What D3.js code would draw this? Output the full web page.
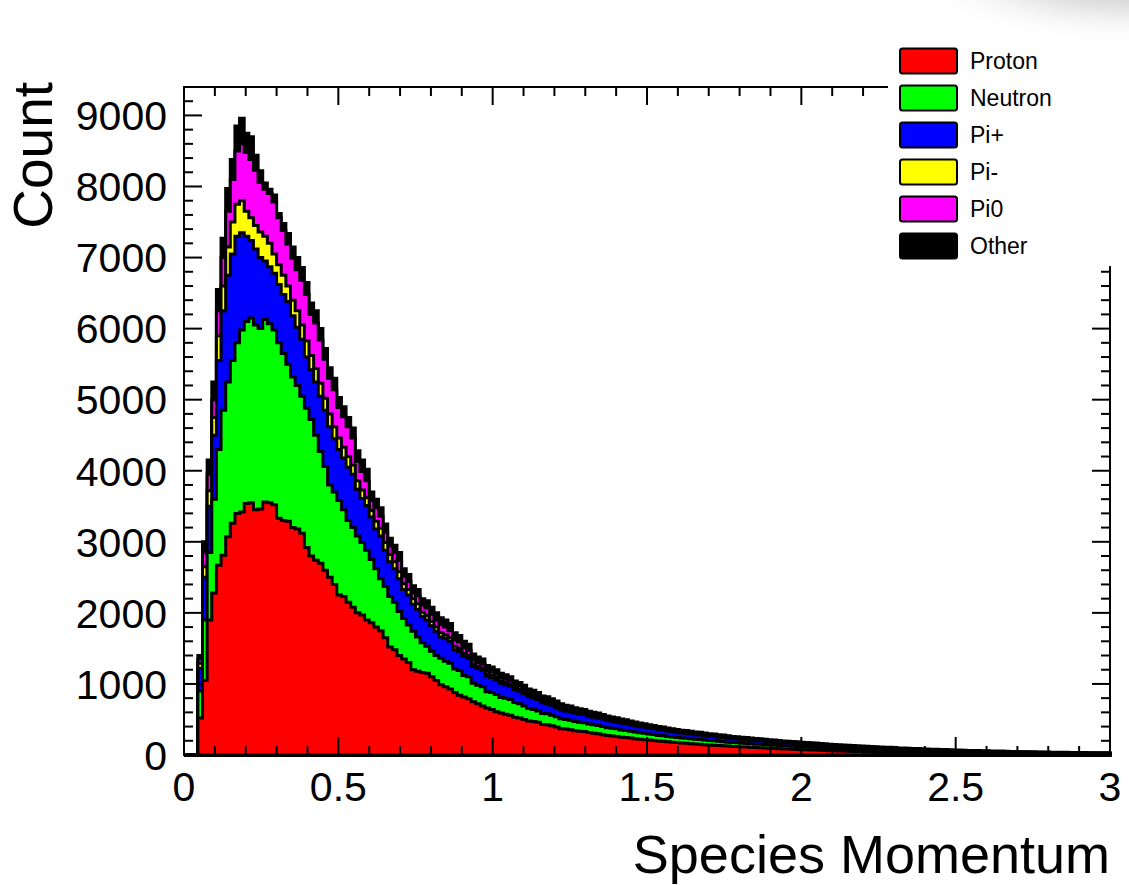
<!DOCTYPE html>
<html>
<head>
<meta charset="utf-8">
<script src="https://cdn.jsdelivr.net/npm/d3@7"></script>
<style>
  body { margin: 0; background: #fff; }
  svg { display: block; }
  text { font-family: "Liberation Sans", Arial, Helvetica, sans-serif; fill: #000; }
</style>
</head>
<body>
<svg id="chart" width="1129" height="885"></svg>
<script>
// Histogram binning: 200 bins over [0, 3]
const nBins = 200;
const xMin = 0, xMax = 3;

const species = ["Proton", "Neutron", "Pi+", "Pi-", "Pi0", "Other"];
const speciesColors = ["#ff0000", "#00ff00", "#0000ff", "#ffff00", "#ff00ff", "#000000"];

// Counts per bin, one array per species (bins 0..199)
const proton = [
  0, 0, 0,
  520, 1050, 1900, 2280, 2670, 2810, 3070, 3260, 3400, 3420,
  3540, 3550, 3450, 3460, 3560, 3550, 3520, 3330, 3300, 3290,
  3200, 3180, 3120, 2920, 2800, 2740, 2700, 2600, 2500, 2400,
  2250, 2230, 2150, 2080, 2000, 1970, 1900, 1860, 1800, 1750,
  1650, 1520, 1480, 1400, 1350, 1300, 1200, 1180, 1160, 1150,
  1100, 1050, 990, 960, 930, 880, 840, 815, 790, 750,
  720, 690, 660, 640, 610, 590, 575, 560, 530, 520,
  500, 480, 470, 460, 430, 425, 410, 395, 370, 365,
  355, 340, 335, 330, 315, 305, 298, 285, 275, 268,
  262, 250, 245, 238, 230, 222, 216, 210, 204, 196,
  193, 185, 180, 175, 170, 166, 160, 155, 152, 146,
  141, 138, 133, 130, 125, 121, 118, 114, 111, 107,
  104, 101, 97, 94, 91, 88, 85, 83,
  80, 78, 75, 73, 70, 69, 66, 63, 61, 59,
  57, 55, 53, 51, 49, 48, 46, 44, 42, 41,
  39, 38, 36, 35, 34, 32, 31, 30, 29, 28,
  26, 25, 24, 23, 22, 21, 21, 20, 19, 18,
  17, 16, 16, 15, 14, 14, 13, 12, 12, 11,
  11, 10, 10, 9, 9, 9, 8, 8, 8, 7,
  7, 7, 6, 6, 6, 6, 5, 5, 5
];

const neutron = [
  0, 0, 0,
  380, 850, 950, 1320, 1630, 2040, 2180, 2290, 2400, 2560,
  2560, 2600, 2600, 2540, 2570, 2520, 2460, 2470, 2350, 2210,
  2120, 2020, 1930, 1960, 1920, 1760, 1570, 1460, 1300, 1300,
  1330, 1220, 1150, 1120, 1080, 1020, 980, 890, 820, 730,
  720, 710, 670, 620, 570, 530, 540, 480, 420, 380,
  360, 350, 370, 360, 360, 330, 350, 305, 310, 260,
  260, 270, 230, 240, 240, 220, 225, 220, 210, 200,
  190, 175, 170, 160, 155, 155, 150, 145, 140, 135,
  135, 130, 127, 125, 120, 120, 117, 115, 110, 107,
  106, 102, 100, 97, 94, 90, 89, 85, 84, 80,
  79, 77, 75, 73, 70, 70, 68, 66, 65, 64,
  62, 61, 59, 58, 56, 55, 54, 53, 52, 50,
  49, 49, 47, 47, 46, 45, 43, 43,
  42, 41, 40, 39, 38, 38, 37, 36, 35, 34,
  33, 33, 32, 31, 30, 30, 29, 28, 28, 27,
  26, 26, 25, 24, 24, 23, 23, 22, 21, 21,
  20, 20, 19, 19, 18, 18, 17, 17, 16, 16,
  16, 15, 15, 14, 14, 14, 13, 13, 13, 12,
  12, 12, 11, 11, 11, 11, 10, 10, 10, 10,
  9, 9, 9, 9, 9, 8, 8, 8, 8
];

const piPlus = [
  0, 0, 0,
  320, 600, 650, 900, 1250, 1400, 1500, 1500, 1500, 1370,
  1200, 1090, 1070, 1000, 820, 800, 800, 820, 830, 880,
  860, 820, 800, 720, 700, 750, 780, 790, 820, 750,
  720, 730, 750, 750, 660, 620, 630, 600, 560, 600,
  510, 490, 470, 460, 410, 420, 380, 390, 370, 370,
  360, 340, 300, 320, 310, 270, 270, 270, 260, 240,
  240, 230, 220, 210, 210, 200, 190, 190, 180, 180,
  175, 165, 165, 160, 150, 145, 140, 130, 125, 120,
  120, 120, 116, 115, 110, 105, 107, 105, 103, 100,
  98, 98, 95, 91, 88, 86, 85, 82, 80, 78,
  77, 74, 72, 70, 69, 68, 67, 65, 64, 62,
  60, 60, 58, 58, 56, 54, 54, 52, 51, 51,
  50, 49, 48, 47, 47, 46, 45, 44,
  43, 42, 41, 41, 40, 39, 38, 37, 36, 36,
  35, 34, 33, 33, 32, 31, 31, 30, 29, 29,
  28, 27, 27, 26, 26, 25, 25, 24, 24, 23,
  23, 22, 22, 21, 21, 20, 20, 19, 19, 19,
  18, 18, 17, 17, 17, 16, 16, 16, 15, 15,
  15, 14, 14, 14, 14, 13, 13, 13, 12, 12,
  12, 12, 11, 11, 11, 11, 10, 10, 10
];

const piMinus = [
  0, 0, 0,
  70, 150, 220, 250, 350, 350, 400, 450, 450, 450,
  350, 320, 330, 360, 350, 330, 270, 280, 270, 220,
  220, 230, 200, 230, 200, 190, 180, 170, 180, 170,
  160, 150, 150, 130, 120, 120, 110, 90, 110, 110,
  110, 100, 100, 100, 80, 80, 80, 80, 60, 60,
  60, 60, 60, 50, 50, 50, 40, 40, 40, 30,
  30, 30, 30, 30, 30, 30, 30, 30, 25, 25,
  25, 20, 20, 20, 20, 20, 20, 20, 15, 15,
  15, 13, 12, 12, 12, 12, 11, 10, 10, 10,
  10, 9, 9, 9, 9, 8, 8, 8, 7, 7,
  7, 7, 7, 6, 6, 6, 5, 5, 5, 5,
  5, 5, 5, 5, 4, 4, 4, 4, 4, 4,
  4, 4, 4, 4, 3, 3, 3, 3,
  3, 3, 3, 3, 3, 3, 3, 3, 2, 2,
  2, 2, 2, 2, 2, 2, 2, 2, 2, 2,
  2, 2, 2, 2, 1, 1, 1, 1, 1, 1,
  1, 1, 1, 1, 1, 1, 1, 1, 1, 1,
  1, 1, 1, 1, 1, 1, 1, 1, 1, 1,
  1, 1, 1, 1, 1, 1, 1, 1, 1, 1,
  1, 1, 1, 1, 0, 0, 0, 0, 0
];

const piZero = [
  0, 0, 0,
  60, 200, 230, 250, 350, 400, 500, 600, 750, 800,
  830, 820, 780, 700, 660, 700, 730, 660, 630, 590,
  590, 580, 630, 650, 580, 640, 610, 550, 500, 520,
  430, 430, 420, 380, 270, 260, 240, 140, 190, 170,
  140, 120, 130, 160, 110, 110, 80, 110, 100, 110,
  100, 100, 120, 110, 100, 90, 90, 80, 70, 60,
  50, 60, 50, 50, 50, 50, 50, 50, 45, 45,
  40, 40, 40, 35, 35, 35, 35, 35, 35, 30,
  30, 27, 28, 26, 25, 25, 25, 23, 22, 21,
  21, 19, 19, 18, 18, 18, 17, 16, 16, 15,
  15, 14, 14, 14, 13, 13, 13, 13, 13, 12,
  12, 11, 11, 10, 11, 11, 10, 10, 10, 9,
  9, 9, 8, 8, 8, 8, 8, 8,
  8, 7, 7, 7, 7, 7, 7, 6, 6, 6,
  6, 6, 6, 6, 5, 5, 5, 5, 5, 5,
  5, 5, 5, 4, 4, 4, 4, 4, 4, 4,
  4, 4, 4, 4, 3, 3, 3, 3, 3, 3,
  3, 3, 3, 3, 3, 3, 3, 3, 3, 2,
  2, 2, 2, 2, 2, 2, 2, 2, 2, 2,
  2, 2, 2, 2, 2, 2, 2, 2, 2
];

const other = [
  0, 0, 0,
  50, 150, 200, 250, 300, 270, 320, 280, 350, 360,
  270, 320, 210, 160, 90, 60, 100, 60, 100, 150,
  160, 170, 180, 170, 160, 170, 160, 150, 150, 160,
  140, 140, 130, 140, 150, 160, 160, 120, 120, 120,
  120, 110, 100, 110, 100, 100, 100, 90, 90, 100,
  100, 100, 90, 100, 100, 100, 90, 90, 90, 80,
  80, 70, 70, 70, 60, 60, 60, 50, 50, 50,
  50, 50, 45, 45, 40, 40, 35, 35, 35, 35,
  35, 35, 32, 32, 33, 33, 32, 32, 30, 29,
  28, 27, 27, 27, 26, 26, 25, 24, 24, 24,
  24, 23, 22, 22, 22, 22, 22, 21, 21, 21,
  20, 20, 19, 19, 18, 17, 18, 17, 17, 17,
  16, 16, 16, 15, 15, 15, 14, 14,
  14, 14, 14, 13, 13, 13, 12, 12, 12, 12,
  12, 11, 11, 11, 11, 11, 10, 10, 10, 10,
  10, 10, 9, 9, 9, 9, 9, 9, 9, 8,
  8, 8, 8, 8, 8, 8, 8, 7, 7, 7,
  7, 7, 7, 7, 7, 7, 6, 6, 6, 6,
  6, 6, 6, 6, 6, 6, 6, 6, 5, 5,
  5, 5, 5, 5, 5, 5, 5, 5, 5
];

const yTickValues = [0, 1000, 2000, 3000, 4000, 5000, 6000, 7000, 8000, 9000];
const xTickValues = [0, 0.5, 1, 1.5, 2, 2.5, 3];
const xTickLabels = ["0", "0.5", "1", "1.5", "2", "2.5", "3"];
const xTitle = "Species Momentum";
const yTitle = "Count";

// ---------------------------------------------------------------
const svg = d3.select("#chart");
const frame = { left: 184, right: 1110, top: 87, bottom: 755 };
const yMax = 9400;

const x = d3.scaleLinear().domain([xMin, xMax]).range([frame.left, frame.right]);
const y = d3.scaleLinear().domain([0, yMax]).range([frame.bottom, frame.top]);

const binWidth = (xMax - xMin) / nBins;
const seriesArrays = [proton, neutron, piPlus, piMinus, piZero, other];
const rows = d3.range(nBins).map(i => {
  const r = { x0: xMin + i * binWidth };
  species.forEach((s, j) => { r[s] = seriesArrays[j][i]; });
  return r;
});
// terminal row closes the last bin at the right edge
const lastRow = Object.assign({}, rows[nBins - 1], { x0: xMax });
const table = rows.concat([lastRow]);

const stacked = d3.stack().keys(species)(table);

// soft shading at the top-right corner of the canvas
const defs = svg.append("defs");
const shadeGrad = defs.append("radialGradient")
  .attr("id", "cornerShade").attr("gradientUnits", "userSpaceOnUse")
  .attr("cx", 1129).attr("cy", -40).attr("r", 240)
  .attr("gradientTransform", "translate(1129,-40) scale(1,0.36) translate(-1129,40)");
shadeGrad.append("stop").attr("offset", "0%").attr("stop-color", "#b4b4b4");
shadeGrad.append("stop").attr("offset", "55%").attr("stop-color", "#e2e2e2");
shadeGrad.append("stop").attr("offset", "100%").attr("stop-color", "#ffffff").attr("stop-opacity", 0);
svg.append("rect").attr("x", 870).attr("y", 0).attr("width", 259).attr("height", 60)
  .attr("fill", "url(#cornerShade)");

// Stacked histograms: each cumulative layer is filled from zero and outlined,
// drawn from the outermost (total) inward.
const area = d3.area()
  .curve(d3.curveStepAfter)
  .x(d => x(d.data.x0))
  .y0(y(0))
  .y1(d => y(d[1]));

const histG = svg.append("g");
for (let j = species.length - 1; j >= 0; j--) {
  histG.append("path")
    .datum(stacked[j])
    .attr("d", area)
    .attr("fill", speciesColors[j])
    .attr("stroke", "#000")
    .attr("stroke-width", 3)
    .attr("stroke-linejoin", "miter");
}

// Frame
svg.append("rect")
  .attr("x", frame.left).attr("y", frame.top)
  .attr("width", frame.right - frame.left).attr("height", frame.bottom - frame.top)
  .attr("fill", "none").attr("stroke", "#000").attr("stroke-width", 2);

// Ticks on all four sides, pointing inward
const majorLen = 18, minorLen = 9;
const axisG = svg.append("g").attr("stroke", "#000").attr("stroke-width", 2);
const xMinor = d3.range(0, 31).map(i => i / 10);
xMinor.forEach(v => {
  const isMajor = Math.abs(v * 2 - Math.round(v * 2)) < 1e-9;
  const len = isMajor ? majorLen : minorLen;
  const px = x(v);
  axisG.append("line").attr("x1", px).attr("x2", px).attr("y1", frame.bottom).attr("y2", frame.bottom - len);
  axisG.append("line").attr("x1", px).attr("x2", px).attr("y1", frame.top).attr("y2", frame.top + len);
});
const yMinor = d3.range(0, 48).map(i => i * 200);
yMinor.forEach(v => {
  const isMajor = v % 1000 === 0;
  const len = isMajor ? majorLen : minorLen;
  const py = y(v);
  axisG.append("line").attr("x1", frame.left).attr("x2", frame.left + len).attr("y1", py).attr("y2", py);
  axisG.append("line").attr("x1", frame.right).attr("x2", frame.right - len).attr("y1", py).attr("y2", py);
});

// Tick labels
const tickFont = 41;
svg.append("g").selectAll("text").data(yTickValues).join("text")
  .attr("x", 167).attr("y", d => y(d) + tickFont * 0.36)
  .attr("text-anchor", "end").attr("font-size", tickFont)
  .text(d => d3.format("d")(d));

svg.append("g").selectAll("text").data(xTickValues).join("text")
  .attr("x", d => x(d)).attr("y", 801)
  .attr("text-anchor", "middle").attr("font-size", tickFont)
  .text((d, i) => xTickLabels[i]);

// Axis titles (right/top aligned)
svg.append("text")
  .attr("x", frame.right).attr("y", 873)
  .attr("text-anchor", "end").attr("font-size", 54)
  .text(xTitle);
svg.append("text")
  .attr("transform", `translate(52,${82}) rotate(-90)`)
  .attr("text-anchor", "end").attr("font-size", 55)
  .text(yTitle);

// Legend
const legend = svg.append("g");
legend.append("rect").attr("x", 888).attr("y", 40).attr("width", 241).attr("height", 226)
  .attr("fill", "#fff");
const legendY0 = 61, legendStep = 37;
species.forEach((s, j) => {
  const cy = legendY0 + j * legendStep;
  legend.append("rect")
    .attr("x", 900).attr("y", cy - 12.5).attr("width", 57).attr("height", 25)
    .attr("rx", 2.5)
    .attr("fill", speciesColors[j]).attr("stroke", "#000").attr("stroke-width", 2);
  legend.append("text")
    .attr("x", 970).attr("y", cy + 8).attr("font-size", 23)
    .text(s);
});
</script>
</body>
</html>
